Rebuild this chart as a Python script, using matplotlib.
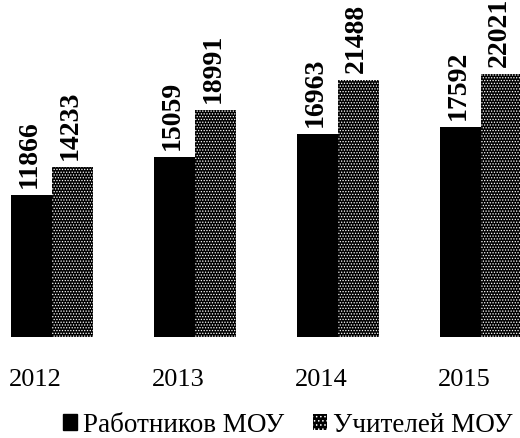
import matplotlib
matplotlib.use("Agg")
import matplotlib.pyplot as plt
import matplotlib.transforms as mtransforms
from matplotlib.patches import Patch
import numpy as np

years = ["2012", "2013", "2014", "2015"]
workers = [11866, 15059, 16963, 17592]
teachers = [14233, 18991, 21488, 22021]
series_names = ["Работников МОУ", "Учителей МОУ"]

plt.rcParams["font.family"] = ["Liberation Serif", "DejaVu Serif"]
plt.rcParams["hatch.linewidth"] = 0.6

W, H = 520, 438
fig = plt.figure(figsize=(W / 100, H / 100), dpi=100)
# axes spanning beyond right edge (last bar is cut off in reference)
x0_pix = -19.5
ax_w_pix = 572
bottom_pix = 337
scale = 0.01195
ymax = 25000
ax = fig.add_axes([x0_pix / W, (H - bottom_pix) / H, ax_w_pix / W, ymax * scale / H])
ax.set_xlim(-0.5, 3.5)
ax.set_ylim(0, ymax)
ax.axis("off")

x = np.arange(len(years))
bw = 0.29
ax.bar(x - bw / 2, workers, width=bw, color="black", linewidth=0)
ax.bar(x + bw / 2, teachers, width=bw, color="black", linewidth=0)
ax.bar(x + bw / 2, teachers, width=bw, facecolor="none", edgecolor="white",
       hatch="......", linewidth=0)

for xs, vals in ((x - bw / 2, workers), (x + bw / 2, teachers)):
    for xi, v in zip(xs, vals):
        ax.annotate(f"{v}", (xi, v), xytext=(-2, 7), textcoords="offset pixels",
                    rotation=90, ha="center", va="bottom", fontsize=20,
                    fontweight="bold", annotation_clip=False)

trans = mtransforms.blended_transform_factory(ax.transData, fig.transFigure)
for xi, lab in zip(x, years):
    ax.text(xi - 0.12, (H - 380) / H, lab, transform=trans, ha="center",
            va="center", fontsize=19, clip_on=False)

handles = [Patch(facecolor="black", edgecolor="black"),
           Patch(facecolor="black", edgecolor="white", hatch="....", linewidth=0)]
fig.legend(handles, series_names, loc="center", bbox_to_anchor=(0.553, (H - 425) / H),
           ncol=2, frameon=False, fontsize=19.5, handlelength=0.55, handleheight=0.55,
           handletextpad=0.2, columnspacing=1.05, borderpad=0, borderaxespad=0)

fig.savefig("out.png", dpi=100)
